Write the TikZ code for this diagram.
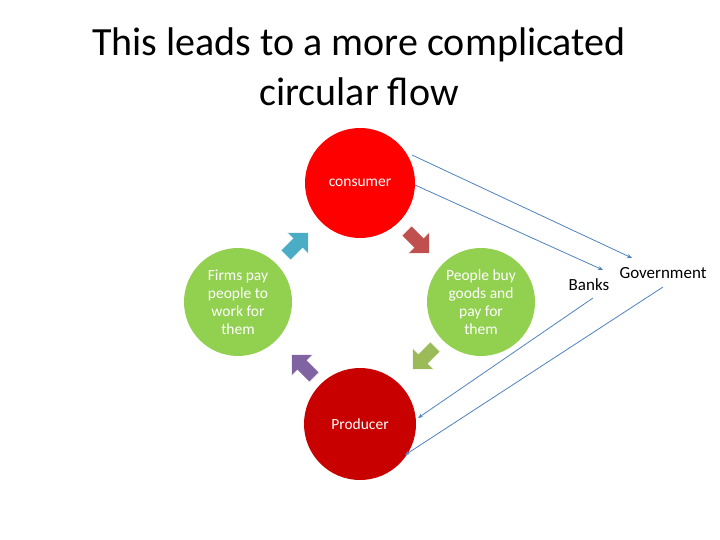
\documentclass[tikz,border=0pt]{standalone}
\usepackage{fontspec}
\setmainfont{Carlito}
\usetikzlibrary{arrows.meta}
\definecolor{lg}{HTML}{92D050}
\definecolor{ln}{HTML}{4F81BD}
\begin{document}
\begin{tikzpicture}[x=1pt,y=-1pt,
  circ/.style={circle,minimum size=#1,inner sep=0pt,text=white,font=\fontsize{15.5}{18}\selectfont,align=center},
  blk/.style={fill=#1,draw=white,line width=0.6pt},
  flow/.style={ln,line width=0.8pt,-{Stealth[length=5pt,width=4pt]}},
  lbl/.style={font=\fontsize{17}{19}\selectfont,inner sep=1pt}]
\useasboundingbox (0,0) rectangle (720,540);
\node[font=\fontsize{40}{50}\selectfont,align=center] (title) at (359,67) {This leads to a more complicated\\circular flow};
\node[circ=110pt,fill=red] (cons) at (360,183) {consumer};
\node[circ=112pt,fill={rgb,255:red,200;green,0;blue,0}] (prod) at (360,424) {Producer};
\node[circ=108pt,fill=lg] (firms) at (238,302) {Firms pay\\people to\\work for\\them};
\node[circ=108pt,fill=lg] (people) at (481,302) {People buy\\goods and\\pay for\\them};
\foreach \px/\py/\ang/\col in {418/242/-45/{rgb,255:red,192;green,80;blue,77},424/358/-135/{rgb,255:red,155;green,187;blue,89},303/366/135/{rgb,255:red,128;green,100;blue,162},297/244/45/{rgb,255:red,75;green,172;blue,198}}
  \draw[blk=\col,shift={(\px,\py)},rotate=\ang] (-16,-7) -- (1,-7) -- (1,-15) -- (16,0) -- (1,15) -- (1,7) -- (-16,7) -- cycle;
\node[lbl] (banks) at (589,285) {Banks};
\node[lbl] (gov) at (663,273) {Government};
\coordinate (c1) at (412,155);
\coordinate (c2) at (415,185);
\coordinate (g1) at (632,258);
\coordinate (b1) at (603,270);
\coordinate (b2) at (593,298);
\coordinate (g2) at (663,287);
\coordinate (p1) at (418,418);
\coordinate (p2) at (405,455);
\draw[flow] (c1) -- (g1);
\draw[flow] (c2) -- (b1);
\draw[flow] (b2) -- (p1);
\draw[flow] (g2) -- (p2);
\end{tikzpicture}
\end{document}
